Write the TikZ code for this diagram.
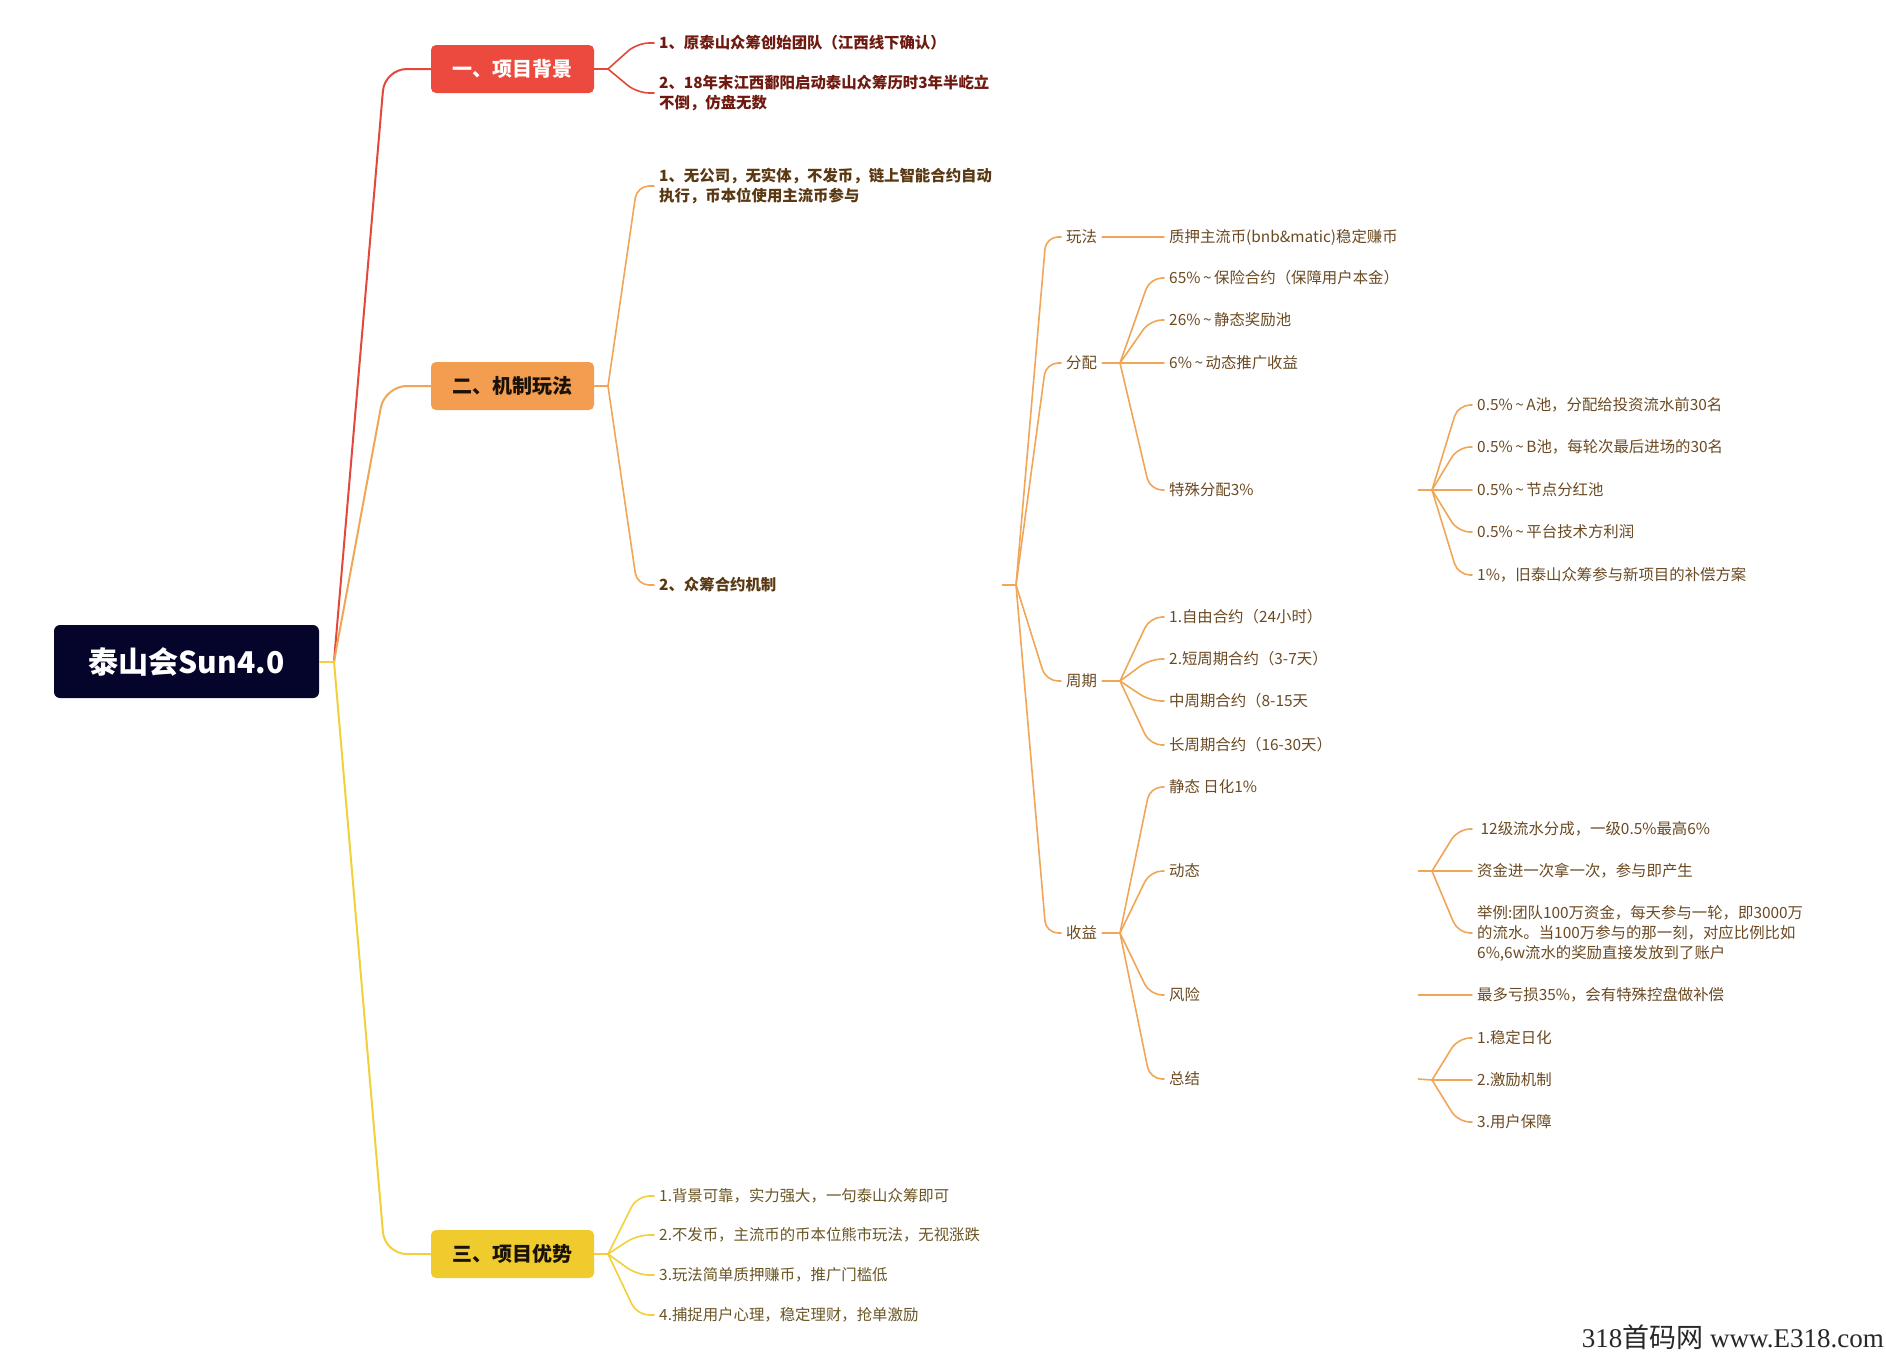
\documentclass[tikz,border=0pt]{standalone}
\usepackage{fontspec}
\setmainfont{Noto Sans CJK SC}
\newfontfamily\wmfont{Liberation Serif}
\usetikzlibrary{calc}
\definecolor{cred}{RGB}{226,72,60}
\definecolor{cboxred}{RGB}{236,74,63}
\definecolor{corange}{RGB}{240,166,88}
\definecolor{cboxorange}{RGB}{243,157,80}
\definecolor{cyellow}{RGB}{242,208,58}
\definecolor{cboxyellow}{RGB}{239,203,45}
\definecolor{croot}{RGB}{5,5,43}
\definecolor{tred}{RGB}{110,26,16}
\definecolor{tbrown}{RGB}{90,56,18}
\definecolor{tlight}{RGB}{107,74,34}
\definecolor{tolive}{RGB}{106,85,36}
\definecolor{tdark}{RGB}{26,18,8}
\definecolor{wm}{RGB}{40,40,40}
\newcommand\mmlink[4]{\draw[lnk,#1] (#2) -- ([xshift=-#3]#4.west) -- (#4.west);}
\newcommand\tld{\,\textasciitilde\,}
\begin{document}
\begin{tikzpicture}[x=1pt,y=-1pt,
  rootbox/.style={fill=croot,rounded corners=6pt,minimum width=265pt,minimum height=73pt,inner sep=0pt,text=white,font=\fontsize{30}{34}\selectfont\bfseries},
  mainbox/.style={rounded corners=5pt,minimum width=163pt,minimum height=48pt,inner sep=0pt,font=\fontsize{20}{24}\selectfont\bfseries},
  lvltwo/.style={anchor=west,inner xsep=5pt,inner ysep=2pt,align=left,font=\fontsize{15.4}{20}\selectfont\bfseries},
  txt/.style={anchor=west,inner xsep=5pt,inner ysep=2pt,align=left,font=\fontsize{15.4}{20}\selectfont,text=tlight},
  lnk/.style={line width=1.6pt,rounded corners=12pt,line cap=round},
  mainlnk/.style={line width=2pt,rounded corners=22pt,line cap=round}
]
\useasboundingbox (0,0) rectangle (1886,1353);
\fill[white] (0,0) rectangle (1886,1353);

% root and main boxes
\node[rootbox] (root) at (186.5,661.5) {泰山会Sun4.0};
\node[mainbox,fill=cboxred,text=white] (b1) at (512.5,69) {一、项目背景};
\node[mainbox,fill=cboxorange,text=tdark] (b2) at (512.5,386) {二、机制玩法};
\node[mainbox,fill=cboxyellow,text=tdark] (b3) at (512.5,1254) {三、项目优势};

\coordinate (jr) at (334,661.5);
\draw[mainlnk,cred] (jr) -- ([xshift=-46pt]b1.west) -- (b1.west);
\draw[mainlnk,corange] (jr) -- ([xshift=-46pt]b2.west) -- (b2.west);
\draw[mainlnk,cyellow] (jr) -- ([xshift=-46pt]b3.west) -- (b3.west);
\draw[line width=2pt,cyellow] (root.east) -- (jr);

% level 2 - background
\node[lvltwo,text=tred] (c11) at (654,43) {1、原泰山众筹创始团队（江西线下确认）};
\node[lvltwo,text=tred] (c12) at (654,93) {2、18年末江西鄱阳启动泰山众筹历时3年半屹立\\不倒，仿盘无数};
\coordinate (j1) at (608,69);
\draw[lnk,cred] (b1.east) -- (j1);
\mmlink{cred}{j1}{17pt}{c11}
\mmlink{cred}{j1}{17pt}{c12}

% level 2 - mechanism
\node[lvltwo,text=tbrown] (c21) at (654,186) {1、无公司，无实体，不发币，链上智能合约自动\\执行，币本位使用主流币参与};
\node[lvltwo,text=tbrown,text width=338pt] (c22) at (654,585) {2、众筹合约机制};
\coordinate (j2) at (608,386);
\draw[lnk,corange] (b2.east) -- (j2);
\mmlink{corange}{j2}{17pt}{c21}
\mmlink{corange}{j2}{17pt}{c22}

% level 3
\node[txt] (wf) at (1061,237) {玩法};
\node[txt] (fp) at (1061,363) {分配};
\node[txt] (zq) at (1061,681) {周期};
\node[txt] (sy) at (1061,933) {收益};
\coordinate (j22) at (1016,585);
\draw[lnk,corange] (c22.east) -- (j22);
\mmlink{corange}{j22}{15pt}{wf}
\mmlink{corange}{j22}{15pt}{fp}
\mmlink{corange}{j22}{15pt}{zq}
\mmlink{corange}{j22}{15pt}{sy}

% 玩法
\node[txt] (wf1) at (1164,237) {质押主流币(bnb\&matic)稳定赚币};
\draw[lnk,corange] (wf.east) -- (wf1.west);

% 分配
\node[txt] (fp1) at (1164,278) {65\%\tld 保险合约（保障用户本金）};
\node[txt] (fp2) at (1164,320) {26\%\tld 静态奖励池};
\node[txt] (fp3) at (1164,363) {6\%\tld 动态推广收益};
\node[txt,text width=244pt] (fp4) at (1164,490) {特殊分配3\%};
\coordinate (jfp) at (1120,363);
\draw[lnk,corange] (fp.east) -- (jfp);
\mmlink{corange}{jfp}{14pt}{fp1}
\mmlink{corange}{jfp}{14pt}{fp2}
\mmlink{corange}{jfp}{14pt}{fp3}
\mmlink{corange}{jfp}{14pt}{fp4}

% 特殊分配
\node[txt] (ts1) at (1472,405) {0.5\%\tld A池，分配给投资流水前30名};
\node[txt] (ts2) at (1472,447) {0.5\%\tld B池，每轮次最后进场的30名};
\node[txt] (ts3) at (1472,490) {0.5\%\tld 节点分红池};
\node[txt] (ts4) at (1472,532) {0.5\%\tld 平台技术方利润};
\node[txt] (ts5) at (1472,575) {1\%，旧泰山众筹参与新项目的补偿方案};
\coordinate (jts) at (1432,490);
\draw[lnk,corange] (fp4.east) -- (jts);
\mmlink{corange}{jts}{14pt}{ts1}
\mmlink{corange}{jts}{14pt}{ts2}
\mmlink{corange}{jts}{14pt}{ts3}
\mmlink{corange}{jts}{14pt}{ts4}
\mmlink{corange}{jts}{14pt}{ts5}

% 周期
\node[txt] (zq1) at (1164,617) {1.自由合约（24小时）};
\node[txt] (zq2) at (1164,659) {2.短周期合约（3-7天）};
\node[txt] (zq3) at (1164,701) {中周期合约（8-15天};
\node[txt] (zq4) at (1164,745) {长周期合约（16-30天）};
\coordinate (jzq) at (1120,681);
\draw[lnk,corange] (zq.east) -- (jzq);
\mmlink{corange}{jzq}{14pt}{zq1}
\mmlink{corange}{jzq}{14pt}{zq2}
\mmlink{corange}{jzq}{14pt}{zq3}
\mmlink{corange}{jzq}{14pt}{zq4}

% 收益
\node[txt] (sy1) at (1164,787) {静态 日化1\%};
\node[txt,text width=244pt] (sy2) at (1164,871) {动态};
\node[txt,text width=244pt] (sy3) at (1164,995) {风险};
\node[txt,text width=244pt] (sy4) at (1164,1079) {总结};
\coordinate (jsy) at (1120,933);
\draw[lnk,corange] (sy.east) -- (jsy);
\mmlink{corange}{jsy}{14pt}{sy1}
\mmlink{corange}{jsy}{14pt}{sy2}
\mmlink{corange}{jsy}{14pt}{sy3}
\mmlink{corange}{jsy}{14pt}{sy4}

% 动态
\node[txt] (dt1) at (1472,829) {\ 12级流水分成，一级0.5\%最高6\%};
\node[txt] (dt2) at (1472,871) {资金进一次拿一次，参与即产生};
\node[txt] (dt3) at (1472,933) {举例:团队100万资金，每天参与一轮，即3000万\\的流水。当100万参与的那一刻，对应比例比如\\6\%,6w流水的奖励直接发放到了账户};
\coordinate (jdt) at (1432,871);
\draw[lnk,corange] (sy2.east) -- (jdt);
\mmlink{corange}{jdt}{14pt}{dt1}
\mmlink{corange}{jdt}{14pt}{dt2}
\mmlink{corange}{jdt}{14pt}{dt3}

% 风险
\node[txt] (fx1) at (1472,995) {最多亏损35\%，会有特殊控盘做补偿};
\draw[lnk,corange] (sy3.east) -- (fx1.west);

% 总结
\node[txt] (zj1) at (1472,1038) {1.稳定日化};
\node[txt] (zj2) at (1472,1080) {2.激励机制};
\node[txt] (zj3) at (1472,1122) {3.用户保障};
\coordinate (jzj) at (1432,1080);
\draw[lnk,corange] (sy4.east) -- (jzj);
\mmlink{corange}{jzj}{14pt}{zj1}
\mmlink{corange}{jzj}{14pt}{zj2}
\mmlink{corange}{jzj}{14pt}{zj3}

% level 2 - advantages
\node[txt,text=tolive] (d1) at (654,1196) {1.背景可靠，实力强大，一句泰山众筹即可};
\node[txt,text=tolive] (d2) at (654,1235) {2.不发币，主流币的币本位熊市玩法，无视涨跌};
\node[txt,text=tolive] (d3) at (654,1275) {3.玩法简单质押赚币，推广门槛低};
\node[txt,text=tolive] (d4) at (654,1315) {4.捕捉用户心理，稳定理财，抢单激励};
\coordinate (j3) at (608,1254);
\draw[lnk,cyellow] (b3.east) -- (j3);
\mmlink{cyellow}{j3}{17pt}{d1}
\mmlink{cyellow}{j3}{17pt}{d2}
\mmlink{cyellow}{j3}{17pt}{d3}
\mmlink{cyellow}{j3}{17pt}{d4}

% watermark
\node[anchor=east,inner sep=0pt,text=wm,font=\fontsize{27}{30}\selectfont] (wmk) at (1884,1337) {{\wmfont 318}首码网{\wmfont\ www.E318.com}};
\end{tikzpicture}
\end{document}
